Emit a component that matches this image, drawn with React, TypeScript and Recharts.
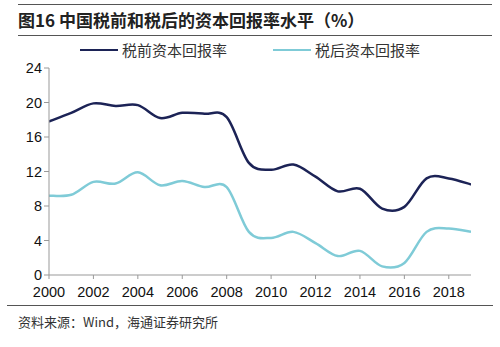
import React from "react";
import { LineChart, Line, XAxis, YAxis, Legend } from "recharts";

const years = [2000, 2001, 2002, 2003, 2004, 2005, 2006, 2007, 2008, 2009, 2010, 2011, 2012, 2013, 2014, 2015, 2016, 2017, 2018, 2019];
const preTax = [17.8, 18.8, 19.9, 19.6, 19.7, 18.2, 18.8, 18.7, 18.3, 13.0, 12.2, 12.8, 11.4, 9.7, 10.0, 7.7, 7.9, 11.2, 11.2, 10.5];
const postTax = [9.2, 9.3, 10.8, 10.6, 11.9, 10.4, 10.9, 10.2, 10.2, 5.0, 4.3, 5.0, 3.7, 2.2, 2.8, 1.0, 1.4, 5.0, 5.4, 5.0];
const seriesNames = ["税前资本回报率", "税后资本回报率"];
const xTicks = [2000, 2002, 2004, 2006, 2008, 2010, 2012, 2014, 2016, 2018];
const yTicks = [0, 4, 8, 12, 16, 20, 24];
const title = "图16 中国税前和税后的资本回报率水平（%）";
const source = "资料来源：Wind，海通证券研究所";

const data = years.map((y, i) => ({ year: y, pre: preTax[i], post: postTax[i] }));

const COLORS = ["#1c2356", "#7fcbd7"];
const FONT = "'Liberation Sans', Arial, 'Noto Sans CJK SC', sans-serif";

// Catmull-Rom style smoothing (like spreadsheet "smoothed line")
function smoothCurve(context: any) {
  let pts: [number, number][] = [];
  let lineFlag = NaN;
  return {
    areaStart() { lineFlag = 0; },
    areaEnd() { lineFlag = NaN; },
    lineStart() { pts = []; },
    point(x: number, y: number) { pts.push([+x, +y]); },
    lineEnd() {
      const n = pts.length;
      if (n === 0) return;
      if (lineFlag === 0 || lineFlag === 1) context.lineTo(pts[0][0], pts[0][1]);
      else context.moveTo(pts[0][0], pts[0][1]);
      for (let i = 0; i < n - 1; i++) {
        const p0 = pts[i - 1] || pts[i];
        const p1 = pts[i];
        const p2 = pts[i + 1];
        const p3 = pts[i + 2] || pts[i + 1];
        const c1x = p1[0] + (p2[0] - p0[0]) / 6;
        const c1y = p1[1] + (p2[1] - p0[1]) / 6;
        const c2x = p2[0] - (p3[0] - p1[0]) / 6;
        const c2y = p2[1] - (p3[1] - p1[1]) / 6;
        context.bezierCurveTo(c1x, c1y, c2x, c2y, p2[0], p2[1]);
      }
      if (lineFlag === 0) lineFlag = 1;
    },
  };
}

const LegendContent = () => (
  <div style={{ position: "relative", height: 20, fontFamily: "'Noto Sans CJK SC', sans-serif", fontSize: 15, color: "#333" }}>
    {[{ x: 80, c: COLORS[0], n: seriesNames[0] }, { x: 273, c: COLORS[1], n: seriesNames[1] }].map((it) => (
      <div key={it.n} style={{ position: "absolute", left: it.x, top: 0, display: "flex", alignItems: "center", whiteSpace: "nowrap" }}>
        <div style={{ width: 38, height: 2, background: it.c, marginRight: 4 }} />
        <span style={{ lineHeight: "20px" }}>{it.n}</span>
      </div>
    ))}
  </div>
);

export default function App() {
  return (
    <div style={{ position: "absolute", left: 0, top: 0, width: 500, height: 347, background: "#fff", overflow: "hidden" }}>
      <div style={{ position: "absolute", left: 18, top: 4, width: 474, height: 1, background: "#555" }} />
      <div style={{ position: "absolute", left: 18, top: 9, fontFamily: "'Noto Sans CJK SC', sans-serif", fontWeight: 700, fontSize: 17, color: "#222", whiteSpace: "nowrap", lineHeight: "22px" }}>{title}</div>
      <div style={{ position: "absolute", left: 18, top: 35, width: 474, height: 1, background: "#555" }} />
      <LineChart width={500} height={347} data={data} margin={{ top: 48, right: 29, bottom: 42, left: 0 }}>
        <XAxis
          dataKey="year"
          type="number"
          domain={[2000, 2019]}
          ticks={xTicks}
          interval={0}
          tickLine={{ stroke: "#999" }}
          axisLine={{ stroke: "#999" }}
          tickSize={4}
          tickMargin={8}
          tick={{ fill: "#111", fontSize: 14.5, fontFamily: FONT }}
          height={30}
          allowDataOverflow
        />
        <YAxis
          domain={[0, 24]}
          ticks={yTicks}
          interval={0}
          width={49}
          tickLine={{ stroke: "#999" }}
          axisLine={{ stroke: "#999" }}
          tickSize={5}
          tick={{ fill: "#111", fontSize: 14.5, fontFamily: FONT }}
        />
        <Legend verticalAlign="top" content={<LegendContent />} wrapperStyle={{ top: 40, left: 0, width: 500, height: 20 }} />
        <Line type={smoothCurve as any} dataKey="pre" name={seriesNames[0]} stroke={COLORS[0]} strokeWidth={2.5} dot={false} isAnimationActive={false} />
        <Line type={smoothCurve as any} dataKey="post" name={seriesNames[1]} stroke={COLORS[1]} strokeWidth={2.5} dot={false} isAnimationActive={false} />
      </LineChart>
      <div style={{ position: "absolute", left: 7, top: 305, width: 486, height: 1, background: "#555" }} />
      <div style={{ position: "absolute", left: 18, top: 312, fontFamily: "'Noto Sans CJK SC', sans-serif", fontSize: 13, color: "#333", whiteSpace: "nowrap", lineHeight: "20px" }}>{source}</div>
    </div>
  );
}
